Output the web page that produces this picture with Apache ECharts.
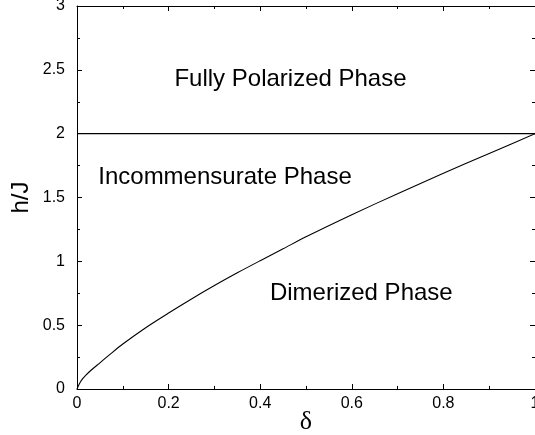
<!DOCTYPE html>
<html>
<head>
<meta charset="utf-8">
<script src="https://cdn.jsdelivr.net/npm/echarts@6/dist/echarts.min.js"></script>
<style>
html,body{margin:0;padding:0;background:#fff;}
#chart{width:535px;height:435px;}
</style>
</head>
<body>
<div id="chart"></div>
<script>
// Phase boundary h_c(delta) between dimerized and incommensurate phases
const delta = [0, 0.005, 0.01, 0.02, 0.03, 0.05, 0.07, 0.1, 0.15, 0.2, 0.25, 0.3, 0.35, 0.4, 0.45, 0.5, 0.6, 0.7, 0.8, 0.9, 1.0];
const hc    = [0, 0.04, 0.07, 0.11, 0.145, 0.205, 0.265, 0.352, 0.48, 0.595, 0.705, 0.81, 0.91, 1.005, 1.098, 1.192, 1.365, 1.53, 1.69, 1.845, 2.0];
// Saturation field line
const satDelta = [0, 1];
const satH = [2, 2];
const phaseLabels = ['Fully Polarized Phase', 'Incommensurate Phase', 'Dimerized Phase'];

const chart = echarts.init(document.getElementById('chart'), null, {renderer: 'canvas'});
const FONT = 'Liberation Sans, Arial, Helvetica, sans-serif';
const axisLineStyle = {color: '#000', width: 1};

function mirrorAxis(pos, min, max, interval, split) {
  return {
    type: 'value', position: pos, min: min, max: max, interval: interval,
    axisLine: {show: true, onZero: false, lineStyle: axisLineStyle},
    axisTick: {show: true, inside: true, length: 5, lineStyle: axisLineStyle},
    minorTick: {show: true, splitNumber: split, length: 3, lineStyle: axisLineStyle},
    axisLabel: {show: false},
    splitLine: {show: false}
  };
}

const option = {
  animation: false,
  backgroundColor: '#fff',
  grid: {left: 77, top: 6, width: 458, bottom: 46, containLabel: false, outerBoundsMode: 'none'},
  xAxis: [
    {
      type: 'value', position: 'bottom', min: 0, max: 1, interval: 0.2,
      name: 'δ', nameLocation: 'middle', nameGap: 20, nameMoveOverlap: false,
      nameTextStyle: {fontFamily: 'Liberation Serif, DejaVu Serif, serif', fontSize: 26, color: '#000'},
      axisLine: {show: true, onZero: false, lineStyle: axisLineStyle},
      axisTick: {show: true, inside: true, length: 5, lineStyle: axisLineStyle},
      minorTick: {show: true, splitNumber: 2, length: 3, lineStyle: axisLineStyle},
      axisLabel: {fontFamily: FONT, fontSize: 16, color: '#000', margin: 7},
      splitLine: {show: false}
    },
    mirrorAxis('top', 0, 1, 0.2, 2)
  ],
  yAxis: [
    {
      type: 'value', position: 'left', min: 0, max: 3, interval: 0.5,
      name: 'h/J', nameLocation: 'middle', nameGap: 44, nameMoveOverlap: false,
      nameTextStyle: {fontFamily: FONT, fontSize: 24, color: '#000'},
      axisLine: {show: true, onZero: false, lineStyle: axisLineStyle},
      axisTick: {show: true, inside: true, length: 5, lineStyle: axisLineStyle},
      minorTick: {show: true, splitNumber: 2, length: 3, lineStyle: axisLineStyle},
      axisLabel: {fontFamily: FONT, fontSize: 16, color: '#000', margin: 12},
      splitLine: {show: false}
    },
    mirrorAxis('right', 0, 3, 0.5, 2)
  ],
  series: [
    {
      type: 'line', xAxisIndex: 0, yAxisIndex: 0,
      data: delta.map((d, i) => [d, hc[i]]),
      showSymbol: false, symbol: 'none', smooth: 0.3,
      lineStyle: {color: '#000', width: 1.1}
    },
    {
      type: 'line', xAxisIndex: 0, yAxisIndex: 0,
      data: satDelta.map((d, i) => [d, satH[i]]),
      showSymbol: false, symbol: 'none',
      lineStyle: {color: '#000', width: 1.1}
    }
  ],
  graphic: [
    {type: 'text', x: 290.5, y: 79, style: {text: phaseLabels[0], font: '24px ' + FONT, fill: '#000', align: 'center', verticalAlign: 'middle'}},
    {type: 'text', x: 225, y: 177, style: {text: phaseLabels[1], font: '24px ' + FONT, fill: '#000', align: 'center', verticalAlign: 'middle'}},
    {type: 'text', x: 361.3, y: 293, style: {text: phaseLabels[2], font: '24px ' + FONT, fill: '#000', align: 'center', verticalAlign: 'middle'}}
  ]
};
chart.setOption(option);
</script>
</body>
</html>
